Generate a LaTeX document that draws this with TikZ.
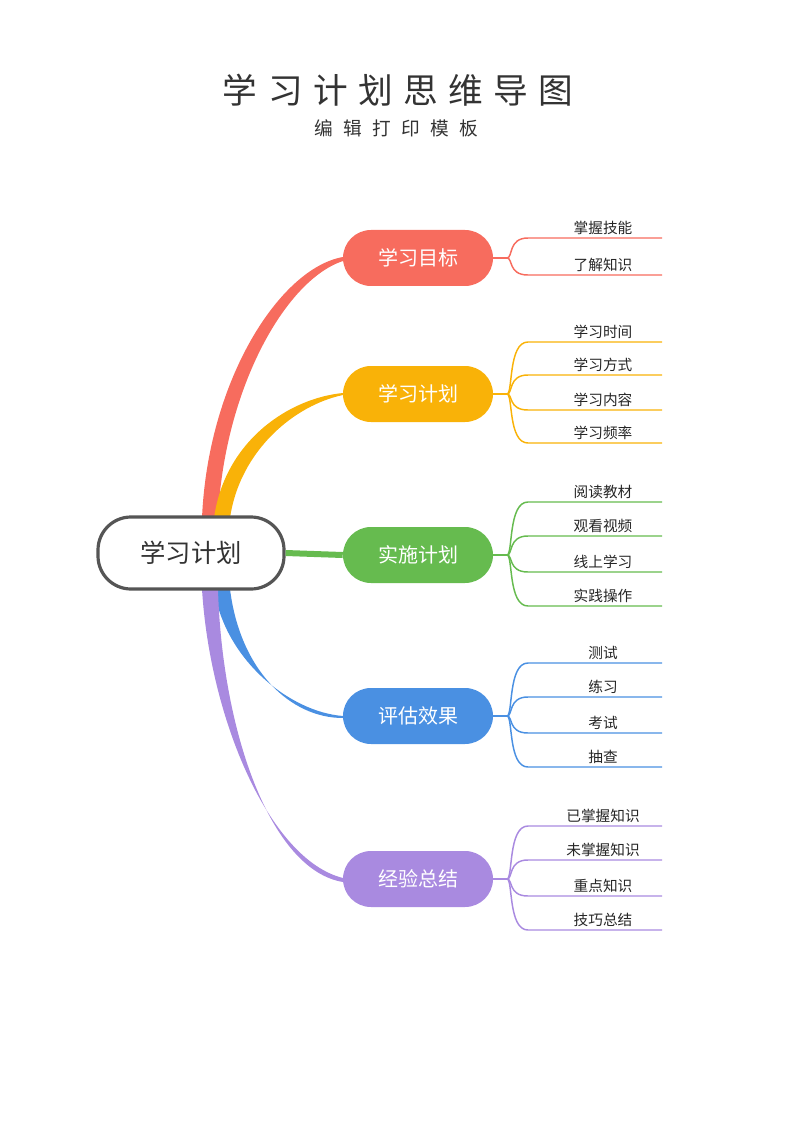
\documentclass[tikz,border=0pt]{standalone}
\usepackage{fontspec}
\setmainfont{Noto Sans CJK SC}
\definecolor{cR}{HTML}{F76C5E}
\definecolor{cO}{HTML}{F9B208}
\definecolor{cG}{HTML}{66BB4F}
\definecolor{cB}{HTML}{4A90E2}
\definecolor{cP}{HTML}{A98AE0}
\definecolor{cD}{HTML}{555555}
\begin{document}
\begin{tikzpicture}[x=0.75pt,y=-0.75pt,
  branch/.style={rounded corners=28*0.75pt,minimum width=150*0.75pt,minimum height=56*0.75pt,text=white,font=\fontsize{15}{18}\selectfont,inner sep=0pt},
  leaf/.style={font=\fontsize{11}{13}\selectfont,text=black!85,inner sep=1pt,anchor=south},
  link/.style={line width=1.1pt}]
\useasboundingbox (0,0) rectangle (800,1130);
\node[text=black!80] (t) at (398,90) {\fontsize{26}{30}\selectfont 学\hspace{0.3em}习\hspace{0.3em}计\hspace{0.3em}划\hspace{0.3em}思\hspace{0.3em}维\hspace{0.3em}导\hspace{0.3em}图};
\node[text=black!80] (s) at (396,128) {\fontsize{14}{16}\selectfont 编\hspace{0.55em}辑\hspace{0.55em}打\hspace{0.55em}印\hspace{0.55em}模\hspace{0.55em}板};
% main connectors (tapered)
\fill[cR] (202,518) .. controls (208,380) and (280,268) .. (343,257) -- (343,261) .. controls (285,280) and (224,390) .. (218,518) -- cycle;
\fill[cO] (214,518) .. controls (225,440) and (290,398) .. (343,393) -- (343,395) .. controls (295,405) and (240,450) .. (230,518) -- cycle;
\fill[cB] (214,589) .. controls (225,660) and (290,712) .. (343,716) -- (343,718) .. controls (290,718) and (240,670) .. (230,589) -- cycle;
\fill[cP] (202,589) .. controls (210,720) and (270,860) .. (343,878) -- (343,882) .. controls (270,870) and (222,730) .. (218,589) -- cycle;
\node[draw=cD,line width=2.4pt,rounded corners=33*0.75pt,minimum width=186*0.75pt,minimum height=72*0.75pt,fill=white,font=\fontsize{19}{22}\selectfont,text=black!80] (c) at (191,553) {学习计划};
\node[branch,fill=cR] (b1) at (418,258) {学习目标};
\node[branch,fill=cO] (b2) at (418,394) {学习计划};
\node[branch,fill=cG] (b3) at (418,555) {实施计划};
\node[branch,fill=cB] (b4) at (418,716) {评估效果};
\node[branch,fill=cP] (b5) at (418,879) {经验总结};
\draw[cG,line width=4.5pt] (c.east) -- (b3.west);
\foreach \col/\b/\y/\list in {
  cR/b1/258/{238/掌握技能,275/了解知识},
  cO/b2/394/{342/学习时间,375/学习方式,410/学习内容,443/学习频率},
  cG/b3/555/{502/阅读教材,536/观看视频,572/线上学习,606/实践操作},
  cB/b4/716/{663/测试,697/练习,733/考试,767/抽查},
  cP/b5/879/{826/已掌握知识,860/未掌握知识,896/重点知识,930/技巧总结}}{
  \coordinate (\b j) at (507,\y);
  \draw[\col,link] (\b.east) -- (\b j);
  \foreach \ly/\txt [count=\i] in \list {
    \coordinate (\b e\i) at (662,\ly);
    \draw[\col,link] (\b j) .. controls (513,\y) and (508,\ly) .. (528,\ly) -- (\b e\i);
    \node[leaf] (\b l\i) at (603,\ly-2) {\txt};
  }
}
\end{tikzpicture}
\end{document}
